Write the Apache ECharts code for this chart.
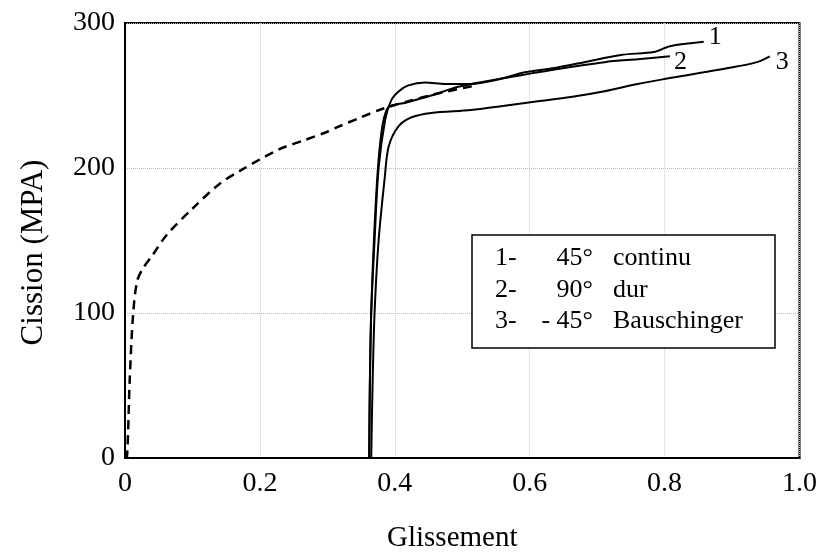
<!DOCTYPE html>
<html>
<head>
<meta charset="utf-8">
<script src="https://cdn.jsdelivr.net/npm/echarts@6/dist/echarts.min.js"></script>
<style>html,body{margin:0;padding:0;background:#fff;}#c{width:820px;height:558px;}</style>
</head>
<body>
<div id="c"></div>
<script>
// Data (Glissement, Cission MPa)
const curve1 = [[0.362,0],[0.363,50],[0.365,100],[0.370,150],[0.376,200],[0.386,234],[0.395,247],[0.406,253],[0.420,257],[0.445,259],[0.475,258],[0.513,258],[0.553,261],[0.593,266],[0.637,269],[0.681,273],[0.735,278],[0.784,280],[0.808,284],[0.858,287]];
const curve2 = [[0.362,0],[0.363,50],[0.365,100],[0.369,150],[0.375,200],[0.382,230],[0.391,242],[0.416,245],[0.454,250],[0.494,256],[0.538,260],[0.587,264],[0.637,268],[0.711,273],[0.760,275],[0.808,277]];
const curve3 = [[0.365,0],[0.367,50],[0.370,100],[0.376,150],[0.385,193],[0.391,215],[0.406,229],[0.425,235],[0.454,238],[0.513,240],[0.563,243],[0.612,246],[0.661,249],[0.711,253],[0.760,258],[0.808,262],[0.858,266],[0.907,270],[0.937,273],[0.956,277]];
const dashed = [[0,0],[0.003,1],[0.007,54],[0.012,99],[0.018,122],[0.027,131],[0.041,140],[0.062,154],[0.100,172],[0.140,189],[0.174,199],[0.229,213],[0.265,219],[0.300,225],[0.314,228],[0.350,235],[0.383,241],[0.420,246],[0.460,251],[0.520,257]];
const curveLabels = ['1','2','3'];
const legendRows = [['1-','45°','continu'],['2-','90°','dur'],['3-','- 45°','Bauschinger']];
const yTicks = [0,100,200,300];
const xTicks = ['0','0.2','0.4','0.6','0.8','1.0'];

const FONT = "'Liberation Serif','Times New Roman',serif";
const chart = echarts.init(document.getElementById('c'));

function solid(data, lbl, off) {
  return {
    type: 'line', data: data, showSymbol: false, smooth: 0.3,
    lineStyle: {color: '#000', width: 2},
    endLabel: {show: true, formatter: lbl, color: '#000', fontFamily: FONT, fontSize: 26, offset: off, distance: 5},
    z: 3
  };
}

const legendGraphics = [{
  type: 'rect', shape: {x: 472, y: 235, width: 303, height: 113},
  style: {fill: '#fff', stroke: '#000', lineWidth: 1.5}, z: 10
}];
const rowY = [258, 290, 321];
legendRows.forEach((r, i) => {
  legendGraphics.push({type: 'text', x: 495, y: rowY[i], z: 11,
    style: {text: r[0], font: '26px ' + FONT, fill: '#000', textVerticalAlign: 'middle', textAlign: 'left'}});
  legendGraphics.push({type: 'text', x: 593, y: rowY[i], z: 11,
    style: {text: r[1], font: '26px ' + FONT, fill: '#000', textVerticalAlign: 'middle', textAlign: 'right'}});
  legendGraphics.push({type: 'text', x: 613, y: rowY[i], z: 11,
    style: {text: r[2], font: '26px ' + FONT, fill: '#000', textVerticalAlign: 'middle', textAlign: 'left'}});
});

chart.setOption({
  animation: false,
  backgroundColor: '#fff',
  grid: {left: 125, right: 17, top: 23, bottom: 96, show: true, borderColor: '#000', borderWidth: 2},
  xAxis: {
    type: 'value', min: 0, max: 1, interval: 0.2,
    name: 'Glissement', nameLocation: 'middle', nameGap: 66,
    nameTextStyle: {fontFamily: FONT, fontSize: 29, color: '#000', padding: [0, 20, 0, 0]},
    axisLine: {lineStyle: {color: '#000', width: 2}},
    axisTick: {show: false},
    axisLabel: {fontFamily: FONT, fontSize: 28, color: '#000', margin: 12,
      formatter: v => xTicks[Math.round(v / 0.2)]},
    splitLine: {show: true, lineStyle: {color: '#ccc', type: 'dotted', width: 1}}
  },
  yAxis: {
    type: 'value', min: 0, max: 300, interval: 100,
    name: 'Cission (MPA)', nameLocation: 'middle', nameGap: 76,
    nameTextStyle: {fontFamily: FONT, fontSize: 31, color: '#000', padding: [0, 24, 0, 0]},
    axisLine: {show: true, lineStyle: {color: '#000', width: 2}},
    axisTick: {show: false},
    axisLabel: {fontFamily: FONT, fontSize: 28, color: '#000', margin: 10,
      formatter: v => String(yTicks[Math.round(v / 100)])},
    splitLine: {show: true, lineStyle: {color: '#bbb', type: 'dotted', width: 1}}
  },
  graphic: legendGraphics,
  series: [
    solid(curve1, curveLabels[0], [0, -5]),
    solid(curve2, curveLabels[1], [-1, 6]),
    solid(curve3, curveLabels[2], [1, 6]),
    {type: 'line', data: dashed, showSymbol: false, smooth: 0.3,
     lineStyle: {color: '#000', width: 2.5, type: [9, 6]}, z: 2}
  ]
});
</script>
</body>
</html>
